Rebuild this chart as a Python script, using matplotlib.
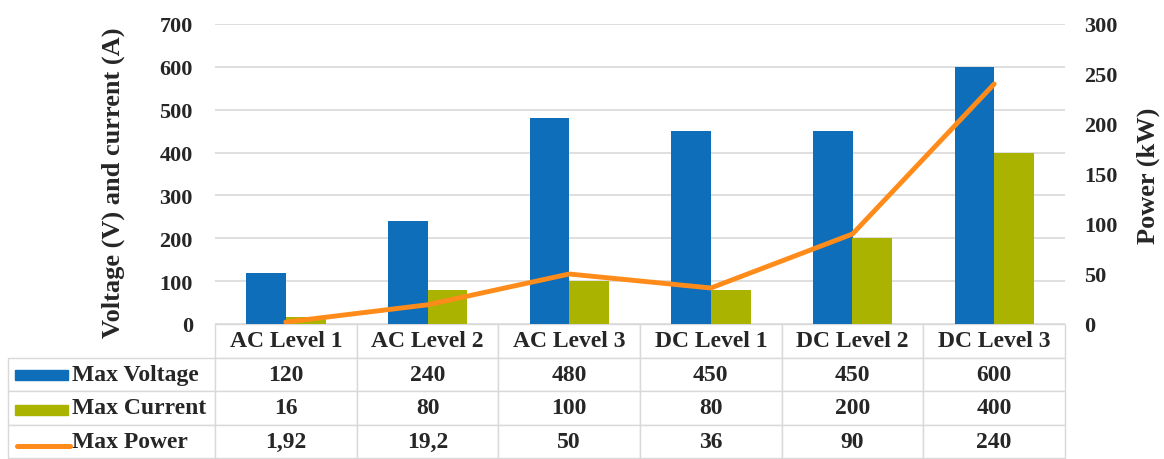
import numpy as np
import matplotlib
matplotlib.use("Agg")
import matplotlib.pyplot as plt
from matplotlib.patches import Rectangle
from matplotlib.lines import Line2D

plt.rcParams['font.family'] = ['Liberation Serif', 'DejaVu Serif']
plt.rcParams['font.weight'] = 'bold'
plt.rcParams['axes.labelweight'] = 'bold'

categories = ["AC Level 1", "AC Level 2", "AC Level 3", "DC Level 1", "DC Level 2", "DC Level 3"]
max_voltage = [120, 240, 480, 450, 450, 600]
max_current = [16, 80, 100, 80, 200, 400]
max_power = [1.92, 19.2, 50, 36, 90, 240]
series_names = ["Max Voltage", "Max Current", "Max Power"]

c_volt = '#0F6EBA'
c_curr = '#A9B300'
c_pow = '#FF8C1A'
c_text = '#262626'
c_grid = '#D9D9D9'

fig = plt.figure(figsize=(11.64, 4.6), dpi=100)
ax = fig.add_axes([215/1164, 1 - 325/460, 850/1164, 300/460])

x = np.arange(len(categories))
w = 0.28
ax.bar(x - w/2, max_voltage, w, color=c_volt, zorder=2)
ax.bar(x + w/2, max_current, w, color=c_curr, zorder=2)
ax.set_xlim(-0.5, len(categories) - 0.5)
ax.set_ylim(0, 700)
ax.set_yticks(range(0, 701, 100))
ax.yaxis.grid(True, color=c_grid, lw=1.2, zorder=0)
ax.set_axisbelow(True)
ax.set_xticks([])
ax.tick_params(axis='y', length=0, pad=16, labelsize=16, labelcolor=c_text)
for s in ax.spines.values():
    s.set_visible(False)
ax.set_ylabel("Voltage (V) and current (A)", fontsize=19, color=c_text)
ax.yaxis.set_label_coords(-0.106, 0.475)

ax2 = ax.twinx()
ax2.plot(x, max_power, color=c_pow, lw=3.5, solid_capstyle='round', zorder=3)
ax2.set_ylim(0, 300)
ax2.set_yticks(range(0, 301, 50))
ax2.tick_params(axis='y', length=0, pad=14, labelsize=16, labelcolor=c_text)
for s in ax2.spines.values():
    s.set_visible(False)
ax2.set_ylabel("Power (kW)", fontsize=19, color=c_text)
ax2.yaxis.set_label_coords(1.0847, 0.497)

def fmt(v):
    return str(v).replace('.', ',')

cell_text = [[fmt(v) for v in max_voltage],
             [fmt(v) for v in max_current],
             [fmt(v) for v in max_power]]

tab = ax.table(cellText=cell_text, rowLabels=series_names, colLabels=categories,
               cellLoc='center', rowLoc='left', bbox=[0, -0.447, 1, 0.447])
tab._autoColumns = []  # keep a fixed width for the row label column
tab.auto_set_font_size(False)
tab.set_fontsize(17)
for (r, c), cell in tab.get_celld().items():
    cell.set_edgecolor(c_grid)
    cell.set_linewidth(1.0)
    cell.get_text().set_color(c_text)
    cell.get_text().set_fontweight('bold')
    if c == -1:
        cell.set_width(207/850)
        cell.PAD = 0.31

# legend keys inside the table row labels
for i, col in enumerate([c_volt, c_curr]):
    yc = [-0.17, -0.287][i]
    ax.add_patch(Rectangle((-0.2353, yc - 0.016), 0.0624, 0.032, transform=ax.transAxes,
                           color=col, clip_on=False))
ax.add_line(Line2D([-0.2335, -0.1705], [-0.407, -0.407], transform=ax.transAxes,
                   color=c_pow, lw=3.6, solid_capstyle='round', clip_on=False))

fig.savefig("out.png", dpi=100)
